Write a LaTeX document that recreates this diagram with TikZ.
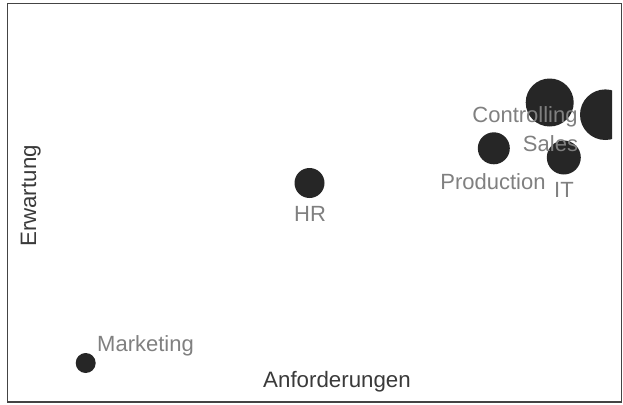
\documentclass[tikz,border=0pt]{standalone}
\usepackage{fontspec}
\setmainfont{Liberation Sans}
\definecolor{dotcol}{HTML}{262626}
\definecolor{lblcol}{HTML}{808080}
\definecolor{axcol}{HTML}{3A3A3A}
\definecolor{framecol}{HTML}{444444}
\begin{document}
\begin{tikzpicture}[x=1pt,y=-1pt,
  dot/.style={circle, fill=dotcol, draw=none, inner sep=0pt},
  lbl/.style={text=lblcol, font=\fontsize{22}{26}\selectfont, inner sep=0pt, anchor=base},
  axislbl/.style={text=axcol, font=\fontsize{22.3}{26}\selectfont, inner sep=0pt, anchor=base},
  frame/.style={draw=framecol, line width=1.8pt}]
\useasboundingbox (0,0) rectangle (623,404);
\fill[white] (0,0) rectangle (623,404);
\begin{scope}
  \clip (7.5,3.5) rectangle (612,402);
  \node[dot, minimum size=20pt] (marketing) at (85.7,363) {};
  \node[dot, minimum size=30pt] (hr) at (309.5,183) {};
  \node[dot, minimum size=32pt] (production) at (493.8,148.3) {};
  \node[dot, minimum size=34pt] (it) at (563.8,157.5) {};
  \node[dot, minimum size=48pt] (controlling) at (549.7,102.5) {};
  \node[dot, minimum size=50.6pt] (sales) at (605.3,114.7) {};
\end{scope}
\node[lbl, anchor=base west] (tmarketing) at (97,351.7) {Marketing};
\node[lbl] (thr) at (310,221.5) {HR};
\node[lbl] (tproduction) at (493,189) {Production};
\node[lbl] (tit) at (564,197.5) {IT};
\node[lbl] (tsales) at (550.5,151) {Sales};
\node[lbl] (tcontrolling) at (525,122.3) {Controlling};
\node[axislbl] (xname) at (337,387.3) {Anforderungen};
\node[axislbl, rotate=90] (yname) at (36,196) {Erwartung};
\draw[frame] (7.5,3.5) rectangle (621.5,402);
\end{tikzpicture}
\end{document}
